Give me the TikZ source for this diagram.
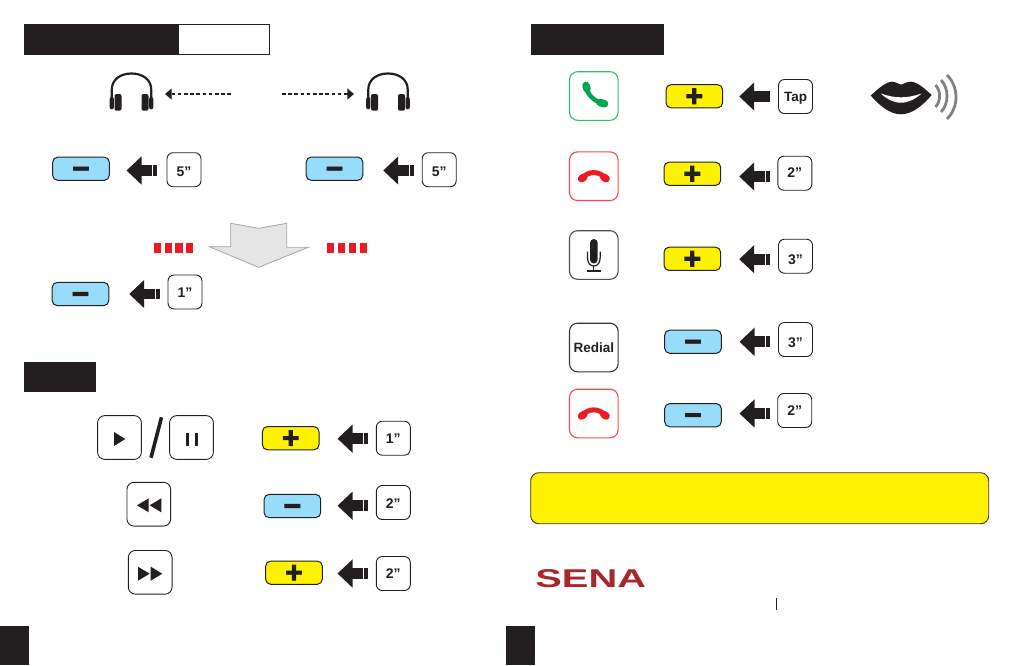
\documentclass[tikz,border=0pt]{standalone}
\usepackage{fontspec}
\setmainfont{Liberation Sans}
\newfontface\keyface[FakeBold=3]{Liberation Sans Bold}
\usepackage{tikz}
\usetikzlibrary{arrows.meta}
\definecolor{ink}{HTML}{231F20}
\definecolor{keyblue}{HTML}{97DDF9}
\definecolor{keyyellow}{HTML}{FFF200}
\definecolor{callred}{HTML}{ED1C24}
\definecolor{callgreen}{HTML}{00A651}
\definecolor{senared}{HTML}{A6282D}
\tikzset{
  every timer/.style={
    rectangle,
    draw=ink,
    line width=0.9pt,
    rounded corners=6pt,
    inner sep=0pt,
    minimum size=34pt,
    text=ink,
    text height=10pt,
    text depth=0pt,
    font=\bfseries\fontsize{14}{14}\selectfont
  },
  every minus/.style={
    rectangle,
    draw=ink,
    fill=keyblue,
    line width=1pt,
    rounded corners=5pt,
    inner sep=0pt,
    minimum width=56.6pt,
    minimum height=23.2pt,
    text=ink,
    text height=19.8pt,
    text depth=0pt,
    font=\keyface\fontsize{30}{30}\selectfont
  },
  every plus/.style={
    every minus,
    fill=keyyellow
  },
  every icon/.style={
    rectangle,
    draw=ink,
    line width=0.9pt,
    rounded corners=7pt,
    inner sep=0pt,
    minimum size=43.7pt
  },
  every callbox/.style={
    every icon,
    line width=1.1pt,
    rounded corners=8pt,
    minimum size=48.6pt,
    text=ink,
    font=\bfseries\fontsize{13.5}{13.5}\selectfont
  },
  press arrow/.style={
    color=ink,
    line width=10.7pt,
    dash pattern=on 3.3pt off 1.7pt on 200pt off 1pt,
    -{Triangle[length=15pt,width=27.3pt]}
  },
  tap arrow/.style={
    color=ink,
    line width=10.7pt,
    -{Triangle[length=15pt,width=27.3pt]}
  },
  dash arrow/.style={
    color=ink,
    line width=1.4pt,
    dash pattern=on 3.6pt off 2.6pt,
    -{Triangle[length=6.7pt,width=11pt]}
  },
  headset/.pic={
    \draw [ink, line width=2.2pt] (-19.7,7) -- (-19.7,-2) .. controls (-19.7,-12) and (-11,-18) .. (0,-18)
      .. controls (11,-18) and (19.7,-12) .. (19.7,-2) -- (19.7,7);
    \fill [ink, rounded corners=2pt] (-17,2.5) rectangle (-10,19.2);
    \fill [ink, rounded corners=2pt] (-21.8,5.5) rectangle (-17.6,17.8);
    \fill [ink, rounded corners=2pt] (10,2.5) rectangle (17,19.2);
    \fill [ink, rounded corners=2pt] (17.6,5.5) rectangle (21.8,17.8);
  },
  hangup/.pic={
    \draw [callred, line width=5pt] (-11.5,2) .. controls (-6,-5.5) and (6,-5.5) .. (11.5,2);
    \draw [callred, line width=7.5pt, line cap=round] (-12.3,2.5) -- (-10,1);
    \draw [callred, line width=7.5pt, line cap=round] (12.3,2.5) -- (10,1);
  }
}

\begin{document}
\begin{tikzpicture}[x=1pt, y=-1pt]
  \useasboundingbox (0,0) rectangle (1012,665);

  % Section bars and page tabs
  \fill [ink] (24,24) rectangle (178,55);
  \draw [ink, line width=0.8pt] (178,24.4) rectangle (269.6,54.6);
  \fill [ink] (24,362) rectangle (96,392);
  \fill [ink] (531,24) rectangle (664,55);
  \fill [ink] (0,626) rectangle (29,665);
  \fill [ink] (506,626) rectangle (535,665);

  % Node placement
  \coordinate (HL) at (131.5,91.5);
  \coordinate (HR) at (388,91.5);
  \pic at (HL) {headset};
  \pic at (HR) {headset};
  \coordinate (DL) at (231,94);
  \coordinate (DR) at (282,94);
  \coordinate (EL) at (165,94);
  \coordinate (ER) at (354,94);

  \node [every minus] (B1) at (81,168.7) {−};
  \node [every minus] (B2) at (334.5,168.7) {−};
  \node [every minus] (B3) at (80.5,294) {−};
  \node [every timer, text height=13pt] (T1) at (184,169.7) {5”};
  \node [every timer, text height=13pt] (T2) at (439.2,169.7) {5”};
  \node [every timer] (T3) at (185,292) {1”};

  \node [every plus] (B4) at (290.7,438.2) {+};
  \node [every minus] (B5) at (292.4,506) {−};
  \node [every plus] (B6) at (294,572.7) {+};
  \node [every timer] (T4) at (393.3,438.2) {1”};
  \node [every timer, text height=12pt] (T5) at (393.3,502.5) {2”};
  \node [every timer] (T6) at (393.3,573.5) {2”};

  \node [every plus] (B7) at (694.3,96.3) {+};
  \node [every plus] (B8) at (692.3,173.8) {+};
  \node [every plus] (B9) at (692.3,258.8) {+};
  \node [every minus] (B10) at (693,341.7) {−};
  \node [every minus] (B11) at (693,415.2) {−};
  \node [every timer, font=\bfseries\fontsize{13.5}{13.5}\selectfont] (T7) at (795.5,96.5) {Tap};
  \node [every timer, text height=8.6pt] (T8) at (794.8,173.2) {2”};
  \node [every timer, text height=16pt] (T9) at (795.5,256.2) {3”};
  \node [every timer, text height=15.4pt] (T10) at (795.5,339.5) {3”};
  \node [every timer] (T11) at (794.7,410.5) {2”};

  % Media icons
  \node [every icon] (Play) at (119.5,437.5) {};
  \node [every icon] (Pause) at (191.5,437.5) {};
  \node [every icon] (Back) at (148.8,504.2) {};
  \node [every icon] (Next) at (150.2,572.3) {};
  \fill [ink] (114,432) -- (125.3,439) -- (114,446) -- cycle;
  \fill [ink] (185.7,433.3) rectangle (189.3,446);
  \fill [ink] (194.7,433.3) rectangle (198.3,446);
  \fill [ink] (148.7,498.3) -- (137,505.3) -- (148.7,512.3) -- cycle;
  \fill [ink] (161.3,498.3) -- (149.7,505.3) -- (161.3,512.3) -- cycle;
  \fill [ink] (138,566.7) -- (149.7,573.7) -- (138,580.7) -- cycle;
  \fill [ink] (150.7,566.7) -- (162.3,573.7) -- (150.7,580.7) -- cycle;
  \coordinate (S1) at (161.5,417.3);
  \coordinate (S2) at (151,457.7);
  \draw [ink, line width=3.6pt] (S1) -- (S2);

  % Call icons
  \node [every callbox, draw=callgreen!80!white] (Call) at (593.8,96) {};
  \node [every callbox, draw=callred!80!white] (End1) at (593.8,176.2) {};
  \node [every callbox, draw=ink!80!white] (Mic) at (593.8,255) {};
  \node [every callbox, draw=ink!90!white] (Redial) at (593.8,347.5) {Redial};
  \node [every callbox, draw=callred!80!white] (End2) at (593.8,413.5) {};
  \draw [callgreen, line width=4.5pt] (586,86) .. controls (587,95) and (595,102) .. (604,103.5);
  \draw [callgreen, line width=7.5pt, line cap=round] (586,85.5) -- (587,89);
  \draw [callgreen, line width=7.5pt, line cap=round] (600,102.5) -- (604.5,103.8);
  \pic at (End1) {hangup};
  \pic at (End2) {hangup};
  \fill [ink, rounded corners=3.8pt] (590,239) rectangle (597.7,263.5);
  \draw [ink, line width=1.2pt] (587.5,251.5) -- (587.5,257) .. controls (587.5,263) and (590,266) .. (593.8,266)
    .. controls (597.5,266) and (600.2,263) .. (600.2,257) -- (600.2,251.5);
  \draw [ink, line width=1.2pt] (593.8,266) -- (593.8,271);
  \draw [ink, line width=1.2pt] (587,271) -- (601,271);

  % Lips and sound
  \fill [ink] (870.7,95.5) .. controls (877,90) and (885,82) .. (892,81.7) .. controls (896,81.7) and (899,84.5) .. (901,84.5)
    .. controls (903,84.5) and (906,81.7) .. (911,81.7) .. controls (918,82) and (926,90) .. (931.7,95)
    .. controls (924,104) and (913,114.3) .. (901,114.3) .. controls (889,114.3) and (878,104) .. (870.7,95.5) -- cycle;
  \fill [white] (880.7,93.5) .. controls (888,96) and (895,97.5) .. (901,97.3) .. controls (907,97.5) and (914,96) .. (921.7,93.5)
    .. controls (915,99) and (909,102.7) .. (901,102.7) .. controls (893,102.7) and (887,99) .. (880.7,93.5) -- cycle;
  \draw [gray, line width=2.8pt] (935.5,85) .. controls (941,91) and (941,101) .. (935.5,107);
  \draw [gray, line width=2.8pt] (941,80) .. controls (949,88) and (949,104) .. (941,112);
  \draw [gray, line width=2.8pt] (947,75) .. controls (959,87) and (959,107) .. (947,119);

  % Down arrow and red squares
  \fill [black!10, draw=black!35, line width=0.8pt] (230.7,223.3) -- (258.7,228.3) -- (286.7,223.3) -- (286.7,247.3) -- (308.3,247.3)
    -- (258.7,267.3) -- (209.3,246.7) -- (230.7,246.7) -- cycle;
  \foreach \x in {154,164.7,175.3,186}
    \fill [callred] (\x,243.3) rectangle ++(7.4,9.7);
  \foreach \x in {327,338,349,360}
    \fill [callred] (\x,243.3) rectangle ++(7.4,9.7);

  % Note and logo
  \node [rectangle, draw=ink!90!white, fill=keyyellow, line width=0.9pt, rounded corners=8pt, minimum width=458pt, minimum height=51pt] (Note) at (759.7,498.2) {};
  \node [text=senared, inner sep=0pt, font=\bfseries\fontsize{25.7}{25.7}\selectfont] (Logo) at (590.7,578.5) {\scalebox{1.55}[1]{SENA}};
  \coordinate (Tick1) at (776.7,598.3);
  \coordinate (Tick2) at (776.7,610);
  \draw [ink, line width=0.8pt] (Tick1) -- (Tick2);

  % Arrows
  \draw [dash arrow] (DL) -- (EL);
  \draw [dash arrow] (DR) -- (ER);
  \draw [press arrow, shorten <=10pt, shorten >=16.7pt] ([yshift=-0.8pt]T1.west) -- ([yshift=-0.8pt]T1.west -| B1.east);
  \draw [press arrow, shorten <=8.2pt, shorten >=19.9pt] ([yshift=-0.8pt]T2.west) -- ([yshift=-0.8pt]T2.west -| B2.east);
  \draw [press arrow, shorten <=8pt, shorten >=19.9pt] ([yshift=-2pt]T3.west) -- ([yshift=-2pt]T3.west -| B3.east);
  \draw [press arrow, shorten <=8.3pt, shorten >=18pt] ([yshift=-0.5pt]T4.west) -- ([yshift=-0.5pt]T4.west -| B4.east);
  \draw [press arrow, shorten <=8.3pt, shorten >=16.3pt] ([yshift=-3.2pt]T5.west) -- ([yshift=-3.2pt]T5.west -| B5.east);
  \draw [press arrow, shorten <=8.3pt, shorten >=14.7pt] (T6.west) -- (T6.west -| B6.east);
  \draw [tap arrow, shorten <=8.5pt, shorten >=16.1pt] (T7.west) -- (T7.west -| B7.east);
  \draw [press arrow, shorten <=7.8pt, shorten >=18.1pt] ([yshift=-3.3pt]T8.west) -- ([yshift=-3.3pt]T8.west -| B8.east);
  \draw [press arrow, shorten <=8.5pt, shorten >=18.1pt] ([yshift=-3pt]T9.west) -- ([yshift=-3pt]T9.west -| B9.east);
  \draw [press arrow, shorten <=8.5pt, shorten >=17.7pt] ([yshift=-2.3pt]T10.west) -- ([yshift=-2.3pt]T10.west -| B10.east);
  \draw [press arrow, shorten <=7.7pt, shorten >=17.7pt] ([yshift=-3pt]T11.west) -- ([yshift=-3pt]T11.west -| B11.east);
\end{tikzpicture}
\end{document}
